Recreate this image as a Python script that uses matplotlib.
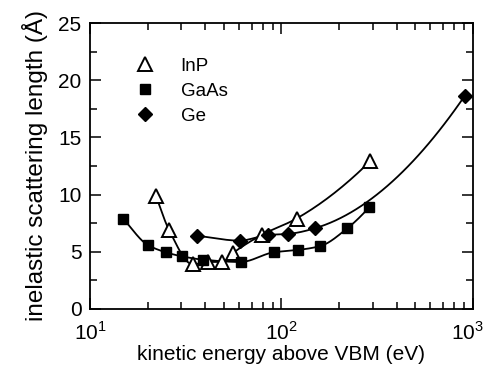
import numpy as np
import matplotlib
matplotlib.use("Agg")
import matplotlib.pyplot as plt
from matplotlib.ticker import LogLocator, MultipleLocator, NullFormatter, FuncFormatter

plt.rcParams['font.family'] = ['Liberation Sans', 'DejaVu Sans']
plt.rcParams['mathtext.fontset'] = 'custom'
plt.rcParams['mathtext.rm'] = 'Liberation Sans'

# energies (eV) and scattering lengths (A)
inp_e = [22.1, 25.9, 34.4, 41.2, 49.1, 56.0, 79.6, 120, 290]
inp_l = [9.9, 6.9, 3.9, 4.1, 4.1, 4.9, 6.5, 7.9, 12.9]

gaas_e = [14.9, 20.0, 24.9, 30.1, 39.1, 61.2, 91.4, 122, 160, 221, 288]
gaas_l = [7.9, 5.6, 4.95, 4.6, 4.3, 4.1, 4.95, 5.15, 5.5, 7.05, 8.9]

ge_e = [36.1, 60.7, 85.3, 108.6, 149.6, 908]
ge_l = [6.4, 5.97, 6.47, 6.56, 7.05, 18.65]


def pchip_line(x, y, n=30):
    # shape preserving cubic through the points (log x), only for the drawn curve
    lx = np.log10(x)
    y = np.asarray(y, float)
    h = np.diff(lx)
    d = np.diff(y) / h
    m = np.zeros(len(lx))
    for k in range(1, len(lx) - 1):
        if d[k - 1] * d[k] > 0:
            w1 = 2 * h[k] + h[k - 1]
            w2 = h[k] + 2 * h[k - 1]
            m[k] = (w1 + w2) / (w1 / d[k - 1] + w2 / d[k])
    m[0] = d[0]
    m[-1] = ((2 * h[-1] + h[-2]) * d[-1] - h[-1] * d[-2]) / (h[-1] + h[-2])
    if np.sign(m[-1]) != np.sign(d[-1]):
        m[-1] = 0
    xs, ys = [], []
    t = np.linspace(0, 1, n)
    for k in range(len(h)):
        h00 = 2 * t**3 - 3 * t**2 + 1
        h10 = t**3 - 2 * t**2 + t
        h01 = -2 * t**3 + 3 * t**2
        h11 = t**3 - t**2
        xs.extend(lx[k] + t * h[k])
        ys.extend(h00 * y[k] + h10 * h[k] * m[k] + h01 * y[k + 1] + h11 * h[k] * m[k + 1])
    return 10 ** np.array(xs), np.array(ys)


def xfmt(v, pos):
    # the last decade label is drawn separately, nudged inside the image
    if v >= 1000:
        return ''
    return '$10^{%d}$' % round(np.log10(v))


fig = plt.figure(figsize=(4.86, 3.73), dpi=100)
ax = fig.add_axes([0.185, 0.172, 0.788, 0.766])

for e, l in ((inp_e, inp_l), (gaas_e, gaas_l), (ge_e, ge_l)):
    sx, sy = pchip_line(e, l)
    ax.plot(sx, sy, color='black', lw=1.3)

ax.plot(inp_e, inp_l, ls='none', marker='^', ms=10, mfc='white', mec='black', mew=1.4, label='InP')
ax.plot(gaas_e, gaas_l, ls='none', marker='s', ms=7.5, color='black', label='GaAs')
ax.plot(ge_e, ge_l, ls='none', marker='D', ms=7.5, color='black', label='Ge')

ax.set_xscale('log')
ax.set_xlim(10, 1000)
ax.set_ylim(0, 25)
ax.yaxis.set_major_locator(MultipleLocator(5))
ax.yaxis.set_minor_locator(MultipleLocator(2.5))
ax.xaxis.set_major_formatter(FuncFormatter(xfmt))
ax.xaxis.set_minor_locator(LogLocator(base=10, subs=np.arange(2, 10)))
ax.xaxis.set_minor_formatter(NullFormatter())
ax.tick_params(which='both', direction='in', top=True, right=True, labelsize=15, width=1.1)
ax.tick_params(which='major', length=8)
ax.tick_params(axis='x', which='major', pad=9)
ax.tick_params(axis='y', which='major', pad=6)
ax.tick_params(which='minor', length=5)
for s in ax.spines.values():
    s.set_linewidth(1.3)

ax.annotate('$10^{3}$', xy=(1, 0), xycoords='axes fraction', xytext=(-4, -9),
            textcoords='offset points', ha='center', va='top', fontsize=15)

ax.set_xlabel('kinetic energy above VBM (eV)', fontsize=15, labelpad=1)
ax.set_ylabel('inelastic scattering length (Å)', fontsize=17.5, labelpad=7)

ax.legend(loc='upper left', bbox_to_anchor=(0.075, 0.905), frameon=False, fontsize=13.5,
          handletextpad=0.9, labelspacing=0.42, borderaxespad=0)

fig.savefig('out.png', dpi=100)
